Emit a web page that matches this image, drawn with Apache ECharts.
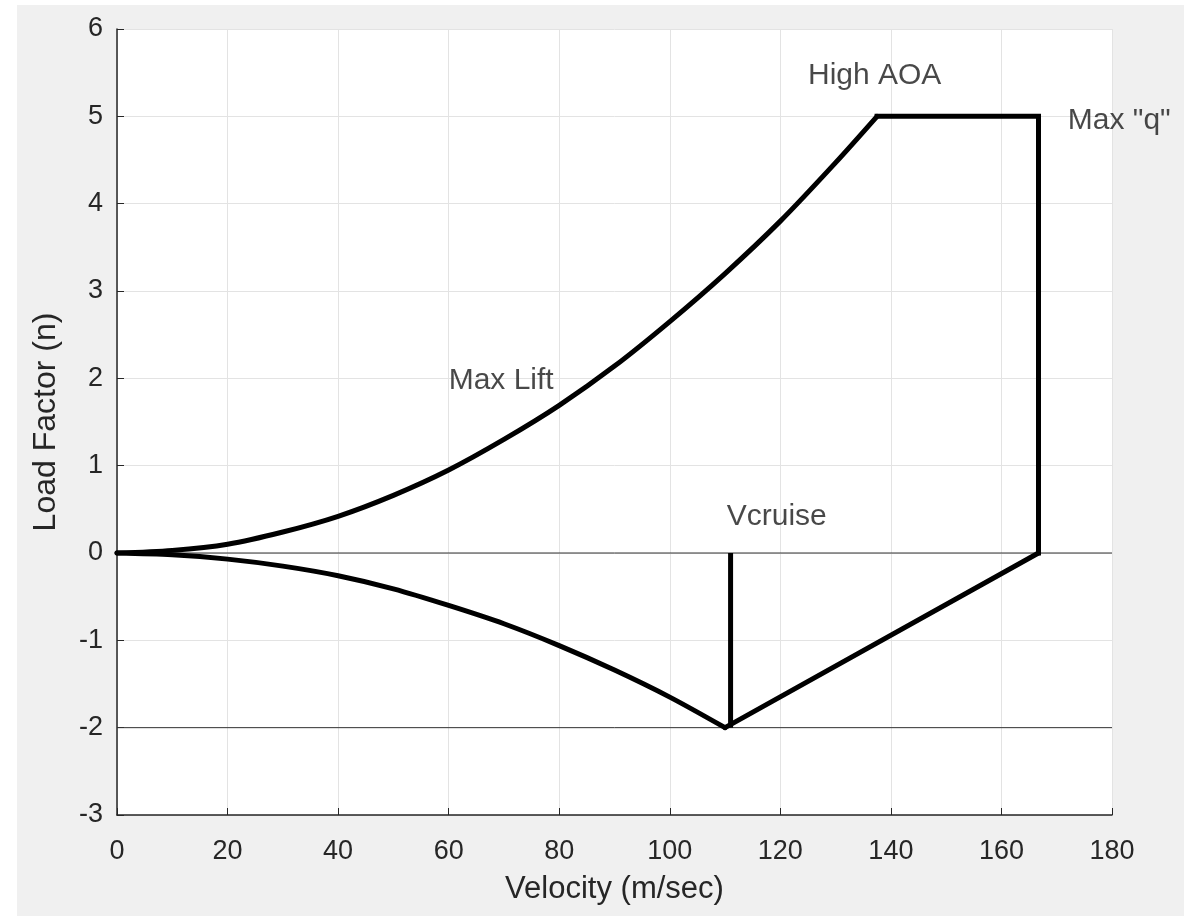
<!DOCTYPE html>
<html>
<head>
<meta charset="utf-8">
<script src="https://cdn.jsdelivr.net/npm/echarts@6/dist/echarts.min.js"></script>
<style>
html,body{margin:0;padding:0;background:#ffffff;}
#chart{width:1195px;height:916px;}
</style>
</head>
<body>
<div id="chart"></div>
<script>
// Max Lift curve (upper, up to High AOA corner)
const liftV = [0, 10, 20, 30, 40, 50, 60, 70, 80, 90, 100, 110, 120, 130, 137.5];
const liftN = [0, 0.03, 0.1, 0.24, 0.42, 0.66, 0.95, 1.3, 1.69, 2.14, 2.65, 3.2, 3.8, 4.47, 5.0];
// High AOA plateau and Max q vertical
const capV = [137.5, 166.7, 166.7];
const capN = [5.0, 5.0, 0];
// Lower envelope curve (negative lift)
const negV = [0, 10, 20, 30, 40, 50, 60, 70, 80, 90, 100, 110];
const negN = [0, -0.02, -0.07, -0.15, -0.26, -0.41, -0.6, -0.81, -1.06, -1.34, -1.65, -2.0];
// Straight return line to Max q
const retV = [110, 166.7];
const retN = [-2.0, 0];
// Vcruise line
const cruiseV = [111, 111];
const cruiseN = [0, -2];
// Reference horizontal lines
const refLevels = [0, -2];
const xRange = [0, 180];
// Annotations
const annoText = ['High AOA', 'Max "q"', 'Max Lift', 'Vcruise'];
const annoV = [125, 172, 60, 110.3];
const annoN = [5.46, 4.95, 1.97, 0.41];

const zip = (a, b) => a.map((v, i) => [v, b[i]]);
const FONT = '"Liberation Sans", Arial, sans-serif';
const TXT = '#262626';

const chart = echarts.init(document.getElementById('chart'));
const series = [];
refLevels.forEach(l => {
  series.push({
    type: 'line', data: [[xRange[0], l], [xRange[1], l]], symbol: 'none',
    lineStyle: {color: '#333333', width: 1}, silent: true, z: 2
  });
});
const thick = {color: '#000', width: 5, cap: 'round', join: 'round'};
series.push({type: 'line', data: zip(liftV, liftN), smooth: 0.3, symbol: 'none', lineStyle: thick, z: 3});
series.push({type: 'line', data: zip(capV, capN), symbol: 'none', lineStyle: {color: '#000', width: 5, cap: 'square', join: 'miter'}, z: 3});
series.push({type: 'line', data: zip(negV, negN), smooth: 0.3, symbol: 'none', lineStyle: thick, z: 3});
series.push({type: 'line', data: zip(retV, retN), symbol: 'none', lineStyle: thick, z: 3});
series.push({type: 'line', data: zip(cruiseV, cruiseN), symbol: 'none', lineStyle: {color: '#000', width: 5}, z: 3});
series.push({
  type: 'scatter', symbolSize: 0, z: 5,
  data: annoText.map((t, i) => ({value: [annoV[i], annoN[i]], name: t})),
  label: {
    show: true, position: [0, 0], align: 'left', verticalAlign: 'middle',
    formatter: p => p.name, color: '#1a1a1a', fontSize: 30, fontFamily: FONT
  }
});

chart.setOption({
  animation: false,
  backgroundColor: '#ffffff',
  graphic: [{type: 'rect', shape: {x: 17, y: 5, width: 1167, height: 911}, style: {fill: '#f0f0f0'}, z: -10, silent: true}],
  grid: {left: 117, top: 29, right: 83, bottom: 101, show: true, backgroundColor: '#ffffff', borderWidth: 0},
  xAxis: {
    type: 'value', min: 0, max: 180, interval: 20,
    name: 'Velocity (m/sec)', nameLocation: 'middle', nameGap: 59,
    nameTextStyle: {color: TXT, fontSize: 31, fontFamily: FONT},
    axisLine: {show: true, onZero: false, lineStyle: {color: TXT, width: 1.5}},
    axisTick: {show: true, inside: true, length: 7, lineStyle: {color: TXT}},
    axisLabel: {color: TXT, fontSize: 27, fontFamily: FONT, margin: 23},
    splitLine: {show: true, lineStyle: {color: '#e3e3e3', width: 1}}
  },
  yAxis: {
    type: 'value', min: -3, max: 6, interval: 1,
    name: 'Load Factor (n)', nameLocation: 'middle', nameGap: 55,
    nameTextStyle: {color: TXT, fontSize: 32, fontFamily: FONT},
    axisLine: {show: true, onZero: false, lineStyle: {color: TXT, width: 1.5}},
    axisTick: {show: true, inside: true, length: 7, lineStyle: {color: TXT}},
    axisLabel: {color: TXT, fontSize: 27, fontFamily: FONT, margin: 14},
    splitLine: {show: true, lineStyle: {color: '#e3e3e3', width: 1}}
  },
  series: series
});
</script>
</body>
</html>
